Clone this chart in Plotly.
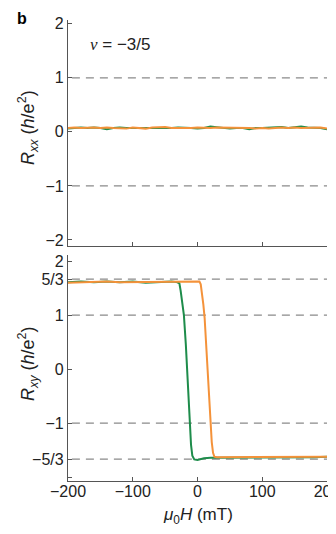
import plotly.graph_objects as go

# ---------------- data ----------------
rxx_field = [-200, -190, -180, -170, -160, -150, -140, -130, -120, -110, -100, -90, -80, -70, -60,
             -50, -40, -30, -20, -10, 0, 10, 20, 30, 40, 50, 60, 70, 80, 90, 100, 110, 120, 130,
             140, 150, 160, 170, 180, 190, 200]
rxx_green = [0.06, 0.07, 0.08, 0.07, 0.08, 0.07, 0.05, 0.07, 0.08, 0.07, 0.07, 0.06, 0.07, 0.07, 0.06,
             0.07, 0.07, 0.08, 0.08, 0.07, 0.06, 0.07, 0.10, 0.09, 0.08, 0.06, 0.07, 0.07, 0.05, 0.07,
             0.07, 0.08, 0.08, 0.09, 0.07, 0.09, 0.10, 0.08, 0.08, 0.07, 0.05]
rxx_orange = [0.07, 0.08, 0.07, 0.08, 0.08, 0.07, 0.08, 0.07, 0.07, 0.06, 0.08, 0.07, 0.06, 0.08, 0.09,
              0.09, 0.07, 0.07, 0.06, 0.07, 0.08, 0.07, 0.07, 0.08, 0.08, 0.07, 0.08, 0.07, 0.07, 0.06,
              0.07, 0.06, 0.07, 0.08, 0.07, 0.08, 0.07, 0.07, 0.08, 0.08, 0.06]

rxy_green_field = [-200, -180, -160, -140, -120, -100, -80, -60, -40, -32, -28, -26, -24, -21, -18,
                   -15, -12, -10, -8, -5, 0, 5, 10, 20, 40, 60, 80, 100, 120, 140, 160, 180, 200]
rxy_green = [1.61, 1.62, 1.61, 1.62, 1.61, 1.62, 1.60, 1.61, 1.62, 1.61, 1.59, 1.45, 1.25, 1.00, 0.45,
             -0.20, -1.00, -1.40, -1.60, -1.67, -1.68, -1.66, -1.65, -1.64, -1.64, -1.63, -1.64,
             -1.64, -1.63, -1.64, -1.63, -1.63, -1.62]

rxy_orange_field = [-200, -180, -160, -140, -120, -100, -80, -60, -40, -20, 0, 3, 5, 7, 9, 11, 14,
                    17, 20, 22, 24, 26, 30, 40, 60, 80, 100, 120, 140, 160, 180, 200]
rxy_orange = [1.60, 1.61, 1.61, 1.62, 1.61, 1.61, 1.62, 1.61, 1.61, 1.62, 1.62, 1.62, 1.57, 1.40,
              1.20, 0.95, 0.35, -0.35, -1.00, -1.35, -1.55, -1.62, -1.63, -1.63, -1.62, -1.63,
              -1.62, -1.63, -1.62, -1.62, -1.63, -1.62]

x_ticks = [-200, -100, 0, 100, 200]
x_ticktext = ["\u2212200", "\u2212100", "0", "100", "200"]
top_ticks = [-2, -1, 0, 1, 2]
top_ticktext = ["\u22122", "\u22121", "0", "1", "2"]
bot_ticks = [-2, -5/3, -1, 0, 1, 5/3, 2]
bot_ticktext = ["", "\u22125/3", "\u22121", "0", "1", "5/3", "2"]
top_dash = [1, -1]
bot_dash = [5/3, 1, -1, -5/3]

GREEN = "#1e8c4b"
ORANGE = "#f4923a"
FONT = "Liberation Sans, Arial, sans-serif"

fig = go.Figure()

fig.add_trace(go.Scatter(x=rxx_field, y=rxx_green, mode="lines", line=dict(color=GREEN, width=2),
                         xaxis="x", yaxis="y", showlegend=False))
fig.add_trace(go.Scatter(x=rxx_field, y=rxx_orange, mode="lines", line=dict(color=ORANGE, width=2),
                         xaxis="x", yaxis="y", showlegend=False))
fig.add_trace(go.Scatter(x=rxy_green_field, y=rxy_green, mode="lines", line=dict(color=GREEN, width=2),
                         xaxis="x2", yaxis="y2", showlegend=False))
fig.add_trace(go.Scatter(x=rxy_orange_field, y=rxy_orange, mode="lines", line=dict(color=ORANGE, width=2),
                         xaxis="x2", yaxis="y2", showlegend=False))

shapes = []
for v in top_dash:
    shapes.append(dict(type="line", xref="x", yref="y", x0=-194, x1=200, y0=v, y1=v,
                       line=dict(color="#8a8a8a", width=1.3, dash="8px,6px"), layer="below"))
for v in bot_dash:
    shapes.append(dict(type="line", xref="x2", yref="y2", x0=-194, x1=200, y0=v, y1=v,
                       line=dict(color="#8a8a8a", width=1.3, dash="8px,6px"), layer="below"))

axis_common = dict(showline=True, linecolor="#555555", linewidth=1.3, ticks="inside", ticklen=4,
                   tickcolor="#555555", tickwidth=1.2, showgrid=False, zeroline=False,
                   ticklabeloverflow="allow", automargin=False,
                   tickfont=dict(family=FONT, size=16, color="#222222"))

# the page body adds an 8px margin; the figure reaches the right edge of the window
fig.update_layout(
    width=328, height=518,
    margin=dict(l=60, r=9, t=12, b=45, autoexpand=False),
    plot_bgcolor="white", paper_bgcolor="white",
    shapes=shapes,
    xaxis=dict(domain=[0, 1], range=[-200, 200], anchor="y", tickvals=x_ticks,
               showticklabels=False, **axis_common),
    yaxis=dict(domain=[0.51, 1.0], range=[-2.11, 2.07], anchor="x", tickvals=top_ticks,
               ticktext=top_ticktext, **axis_common),
    xaxis2=dict(domain=[0, 1], range=[-200, 200], anchor="y2", tickvals=x_ticks,
                ticktext=x_ticktext, ticklabelstandoff=-4, **axis_common),
    yaxis2=dict(domain=[0, 0.49], range=[-2.07, 2.11], anchor="x2", tickvals=bot_ticks,
                ticktext=bot_ticktext, **axis_common),
    annotations=[
        dict(text="<b>b</b>", xref="paper", yref="paper", x=-0.178, y=1.026,
             xanchor="center", yanchor="top", showarrow=False,
             font=dict(family=FONT, size=16, color="black")),
        dict(text="<span style='font-family:Liberation Serif, serif'><i>\u03bd</i></span> = \u22123/5",
             xref="paper", yref="paper", x=0.077, y=0.946,
             xanchor="left", yanchor="middle", showarrow=False,
             font=dict(family=FONT, size=17, color="#222222")),
        dict(text="<i>R</i><sub><i>xx</i></sub> (<i>h</i>/e<sup>2</sup>)", xref="paper", yref="paper",
             x=-0.154, y=0.766, textangle=-90, showarrow=False, xanchor="center", yanchor="middle",
             font=dict(family=FONT, size=18, color="#222222")),
        dict(text="<i>R</i><sub><i>xy</i></sub> (<i>h</i>/e<sup>2</sup>)", xref="paper", yref="paper",
             x=-0.154, y=0.254, textangle=-90, showarrow=False, xanchor="center", yanchor="middle",
             font=dict(family=FONT, size=18, color="#222222")),
        dict(text="<i>\u03bc</i><sub>0</sub><i>H</i> (mT)", xref="paper", yref="paper",
             x=0.5, y=-0.076, showarrow=False, xanchor="center", yanchor="middle",
             font=dict(family=FONT, size=17, color="#222222")),
    ],
)

fig.write_html("out.html")
